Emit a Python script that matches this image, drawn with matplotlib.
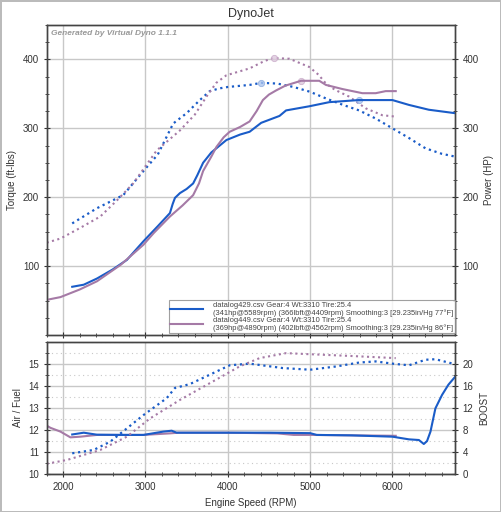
import numpy as np
import matplotlib
matplotlib.use('Agg')
from matplotlib import pyplot as plt
from matplotlib.ticker import MultipleLocator

# datalog429 (blue)
rpm_tq_a = [2110, 2410, 2730, 2975, 3150, 3337, 3500, 3660, 3781, 3900, 4000, 4265, 4409, 4600, 4800, 5000, 5200, 5400, 5595, 5800, 6000, 6200, 6401, 6600, 6760]
tq_a = [162, 184, 203, 238, 262, 307, 322, 341, 354, 358, 360, 363, 366, 365, 360, 353, 343, 334, 326, 314, 300, 286, 271, 263, 259]
rpm_hp_a = [2110, 2250, 2411, 2600, 2774, 2975, 3150, 3297, 3330, 3358, 3419, 3500, 3579, 3630, 3700, 3800, 3983, 4150, 4265, 4406, 4628, 4708, 4990, 5233, 5589, 6000, 6200, 6441, 6760]
hp_a = [70, 73, 82, 95, 109, 136, 158, 177, 190, 199, 206, 212, 220, 232, 250, 265, 283, 291, 295, 308, 318, 326, 332, 338, 341, 341, 334, 327, 322]

# datalog449 (mauve)
rpm_tq_b = [1800, 1967, 2200, 2451, 2650, 2851, 3137, 3419, 3600, 3741, 3860, 3983, 4265, 4450, 4562, 4749, 4990, 5100, 5192, 5300, 5474, 5676, 5877, 6040]
tq_b = [134, 140, 155, 172, 195, 220, 268, 297, 320, 346, 366, 377, 387, 398, 402, 401, 389, 378, 365, 356, 346, 329, 319, 317]
rpm_hp_b = [1800, 1967, 2200, 2411, 2700, 2975, 3100, 3297, 3450, 3579, 3650, 3700, 3800, 3862, 3950, 4023, 4150, 4265, 4350, 4426, 4500, 4587, 4700, 4890, 5111, 5192, 5393, 5635, 5797, 5918, 6040]
hp_b = [51, 55, 66, 78, 102, 131, 148, 172, 188, 203, 220, 238, 259, 273, 287, 295, 302, 310, 325, 341, 349, 355, 362, 369, 369, 363, 357, 351, 351, 354, 354]

# air/fuel
rpm_afr_a = [2110, 2250, 2411, 2700, 2975, 3217, 3318, 3378, 3600, 4000, 4500, 5000, 5080, 5500, 6000, 6200, 6321, 6381, 6420, 6462, 6522, 6603, 6680, 6760]
afr_a = [11.8, 11.88, 11.79, 11.78, 11.78, 11.93, 11.97, 11.88, 11.88, 11.88, 11.88, 11.86, 11.78, 11.76, 11.7, 11.58, 11.55, 11.37, 11.5, 11.93, 12.98, 13.59, 14.05, 14.4]
rpm_afr_b = [1800, 1846, 1967, 2088, 2209, 2411, 2975, 3297, 3400, 4000, 4600, 4800, 5000, 5500, 6040]
afr_b = [12.2, 12.1, 11.93, 11.67, 11.7, 11.78, 11.78, 11.85, 11.88, 11.88, 11.85, 11.78, 11.78, 11.76, 11.74]

# boost
rpm_bst_a = [2110, 2370, 2572, 2774, 2975, 3257, 3358, 3539, 3781, 4023, 4265, 4667, 5000, 5322, 5595, 5797, 6000, 6200, 6401, 6522, 6760]
bst_a = [3.8, 4.4, 5.9, 8.3, 10.7, 13.75, 15.6, 16.3, 18.0, 19.7, 20.0, 19.2, 18.9, 19.5, 20.2, 20.4, 20.0, 19.7, 20.7, 20.8, 19.9]
rpm_bst_b = [1800, 2048, 2451, 2774, 3056, 3419, 3821, 4144, 4386, 4708, 5000, 5474, 6040]
bst_b = [1.9, 2.6, 4.4, 6.8, 10.1, 13.45, 16.8, 19.5, 21.0, 21.9, 21.7, 21.4, 21.0]

peaks_a = [(4409, 366), (5589, 341)]
peaks_b = [(4562, 402), (4890, 369)]

labels = ['datalog429.csv Gear:4 Wt:3310 Tire:25.4\n(341hp@5589rpm) (366lbft@4409rpm) Smoothing:3 [29.235in/Hg 77\u00b0F]',
          'datalog449.csv Gear:4 Wt:3310 Tire:25.4\n(369hp@4890rpm) (402lbft@4562rpm) Smoothing:3 [29.235in/Hg 86\u00b0F]']

blue = '#1a5cc8'
mauve = '#a57aa6'
gridc = '#c8c8c8'
txtc = '#333333'

plt.rcParams['font.family'] = ['Liberation Sans', 'DejaVu Sans']
plt.rcParams['font.size'] = 7

fig = plt.figure(figsize=(5.01, 5.12), dpi=100)
fig.patch.set_edgecolor('#bbbbbb')
fig.patch.set_linewidth(2)

ax1 = fig.add_axes([0.0932, 0.3457, 0.815, 0.6055])
ax2 = fig.add_axes([0.0932, 0.0736, 0.815, 0.2594], sharex=ax1)
ax1r = ax1.twinx()
ax2r = ax2.twinx()

xmin, xmax = 1800, 6760

# top panel
ax1.plot(rpm_tq_a, tq_a, color=blue, ls=':', lw=1.6)
ax1.plot(rpm_tq_b, tq_b, color=mauve, ls=':', lw=1.5)
la, = ax1r.plot(rpm_hp_a, hp_a, color=blue, lw=1.5)
lb, = ax1r.plot(rpm_hp_b, hp_b, color=mauve, lw=1.5)
for x, y in peaks_a:
    ax1.plot(x, y, 'o', ms=4.5, mfc='#aac4ee', mec='#8aa8dd', mew=0.6, alpha=0.8, zorder=5)
for x, y in peaks_b:
    ax1.plot(x, y, 'o', ms=4.5, mfc='#dcc8dc', mec='#c8a8c8', mew=0.6, alpha=0.8, zorder=5)

for a in (ax1, ax1r):
    a.set_ylim(0, 450)
    a.yaxis.set_major_locator(MultipleLocator(100))
    a.yaxis.set_minor_locator(MultipleLocator(25))
ax1.set_xlim(xmin, xmax)
ax1.set_yticks([100, 200, 300, 400])
ax1r.set_yticks([100, 200, 300, 400])
ax1.xaxis.set_major_locator(MultipleLocator(1000))
ax1.xaxis.set_minor_locator(MultipleLocator(200))
ax1.grid(True, which='major', color=gridc, lw=1)
ax1.set_axisbelow(True)
ax1.tick_params(labelbottom=False)
ax1.set_ylabel('Torque (ft-lbs)', color=txtc)
ax1r.set_ylabel('Power (HP)', color=txtc)
ax1.set_title('DynoJet', fontsize=9, color=txtc, pad=6)
ax1.text(0.01, 0.985, 'Generated by Virtual Dyno 1.1.1', transform=ax1.transAxes,
         ha='left', va='top', fontsize=6, style='italic', weight='bold', color='#999999')

leg = ax1r.legend([la, lb], labels, loc='lower right', bbox_to_anchor=(1.0, 0.006),
                  borderaxespad=0, fontsize=5.4, frameon=True, fancybox=False,
                  handlelength=4.4, labelspacing=0.05, borderpad=0.2, handletextpad=1.35)
leg.get_frame().set_edgecolor('#888888')
leg.get_frame().set_linewidth(0.8)
for t in leg.get_texts():
    t.set_color('#444444')
    t.set_linespacing(1.0)

# bottom panel
ax2.plot(rpm_afr_b, afr_b, color=mauve, lw=1.5)
ax2.plot(rpm_afr_a, afr_a, color=blue, lw=1.5)
ax2r.plot(rpm_bst_a, bst_a, color=blue, ls=':', lw=1.6)
ax2r.plot(rpm_bst_b, bst_b, color=mauve, ls=':', lw=1.5)
ax2.set_ylim(10, 16)
ax2r.set_ylim(0, 24)
ax2.set_yticks([10, 11, 12, 13, 14, 15])
ax2.yaxis.set_minor_locator(MultipleLocator(0.5))
ax2r.set_yticks([0, 4, 8, 12, 16, 20])
ax2r.yaxis.set_minor_locator(MultipleLocator(2))
ax2.set_xlim(xmin, xmax)
ax2.grid(True, which='major', color=gridc, lw=1)
ax2.grid(True, which='minor', axis='y', color='#c8c8c8', lw=0.8, ls=(0, (1, 3)))
ax2.set_axisbelow(True)
ax2.set_ylabel('Air / Fuel', color=txtc)
ax2r.set_ylabel('BOOST', color=txtc)
ax2.set_xlabel('Engine Speed (RPM)', color=txtc)

for a in (ax1, ax1r, ax2, ax2r):
    a.tick_params(which='major', length=4, width=0.8, colors=txtc, direction='inout')
    a.tick_params(which='minor', length=2.5, width=0.6, colors=txtc, direction='inout')
    for s in a.spines.values():
        s.set_color('#444444')
        s.set_linewidth(1)

fig.savefig('out.png', dpi=100)
